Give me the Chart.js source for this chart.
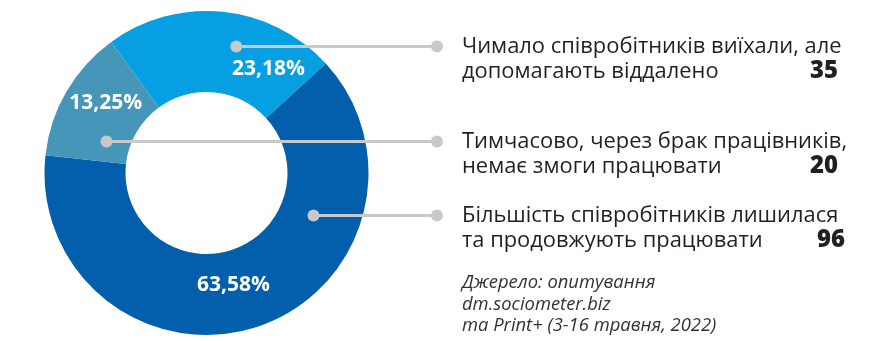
<!DOCTYPE html>
<html lang="uk">
<head>
<meta charset="utf-8">
<script src="https://cdn.jsdelivr.net/npm/chart.js@4.4.1/dist/chart.umd.min.js"></script>
<style>
  html, body { margin: 0; padding: 0; background: #fff; }
  #wrap { position: relative; width: 878px; height: 341px; }
</style>
</head>
<body>
<div id="wrap"><canvas id="js-chart-staff"></canvas></div>
<script>
// survey answers, in slice order (clockwise)
const categories = [
  ["Чимало співробітників виїхали, але", "допомагають віддалено"],
  ["Більшість співробітників лишилася", "та продовжують працювати"],
  ["Тимчасово, через брак працівників,", "немає змоги працювати"]
];
const counts = [35, 96, 20];
const percentLabels = ["23,18%", "63,58%", "13,25%"];
const sliceColors = ["#069fe1", "#035fab", "#4596b8"];
// legend rows top to bottom -> slice index
const rowOrder = [0, 2, 1];
const sourceLines = ["Джерело: опитування", "dm.sociometer.biz", "та Print+ (3-16 травня, 2022)"];

const FAMILY = "'Open Sans', sans-serif";

// spot inside a slice: t = fraction along the arc, r = distance from centre
function arcPoint(arc, t, r) {
  const a = arc.startAngle + (arc.endAngle - arc.startAngle) * t;
  return { x: arc.x + Math.cos(a) * r, y: arc.y + Math.sin(a) * r };
}

// font size that makes text come out at the given width
function fitSize(ctx, text, font, width) {
  ctx.font = font.replace("%s", "20px");
  return 20 * width / ctx.measureText(text).width;
}

const pctSpots = [{ t: 0.80, r: 121 }, { t: 0.52, r: 115 }, { t: 0.60, r: 123 }];
const dotSpots = [{ t: 0.59, r: 130 }, { t: 0.28, r: 115 }, { t: 0.24, r: 105 }];

const annotations = {
  id: "annotations",
  afterDraw(chart) {
    const ctx = chart.ctx;
    const arcs = chart.getDatasetMeta(0).data;
    ctx.save();

    // percentages inside slices
    const pctSize = fitSize(ctx, percentLabels[0], "bold %s " + FAMILY, 73);
    ctx.font = "bold " + pctSize.toFixed(1) + "px " + FAMILY;
    ctx.fillStyle = "#fff";
    ctx.textAlign = "center";
    ctx.textBaseline = "middle";
    arcs.forEach((arc, i) => {
      const p = arcPoint(arc, pctSpots[i].t, pctSpots[i].r);
      ctx.fillText(percentLabels[i], p.x, p.y);
    });

    // connectors + legend text
    const lineX = 437, textX = 462;
    const txtSize = fitSize(ctx, categories[0][0], "%s " + FAMILY, 380);
    const numSize = fitSize(ctx, String(counts[0]), "800 %s " + FAMILY, 28);
    rowOrder.forEach((s) => {
      const d = arcPoint(arcs[s], dotSpots[s].t, dotSpots[s].r);
      const y = Math.round(d.y) + 0.5;
      ctx.strokeStyle = "#c9c9c9";
      ctx.fillStyle = "#c9c9c9";
      ctx.lineWidth = 3;
      ctx.beginPath();
      ctx.moveTo(d.x, y);
      ctx.lineTo(lineX, y);
      ctx.stroke();
      [d.x, lineX].forEach((x) => {
        ctx.beginPath();
        ctx.arc(x, y, 6, 0, Math.PI * 2);
        ctx.fill();
      });

      ctx.fillStyle = "#231f20";
      ctx.textAlign = "left";
      ctx.textBaseline = "middle";
      ctx.font = txtSize.toFixed(1) + "px " + FAMILY;
      ctx.fillText(categories[s][0], textX, y);
      ctx.fillText(categories[s][1], textX, y + 25);
      ctx.font = "800 " + numSize.toFixed(1) + "px " + FAMILY;
      ctx.textAlign = "right";
      ctx.fillText(String(counts[s]), s === 1 ? 845 : 838, y + 25);
    });

    // source note
    const srcSize = fitSize(ctx, sourceLines[2], "italic %s " + FAMILY, 254);
    ctx.font = "italic " + srcSize.toFixed(1) + "px " + FAMILY;
    ctx.fillStyle = "#333";
    ctx.textAlign = "left";
    sourceLines.forEach((t, i) => ctx.fillText(t, textX, 283 + i * 21.5));

    ctx.restore();
  }
};

new Chart(document.getElementById("js-chart-staff"), {
  type: "doughnut",
  data: {
    labels: categories.map((c) => c.join(" ")),
    datasets: [{
      data: counts,
      backgroundColor: sliceColors,
      borderWidth: 0,
      hoverOffset: 0
    }]
  },
  options: {
    responsive: true,
    maintainAspectRatio: false,
    animation: false,
    cutout: "50%",
    rotation: -36,
    layout: { padding: { left: 44, right: 509, top: 11, bottom: 6 } },
    plugins: {
      legend: { display: false },
      tooltip: { enabled: false }
    }
  },
  plugins: [annotations]
});
</script>
</body>
</html>
